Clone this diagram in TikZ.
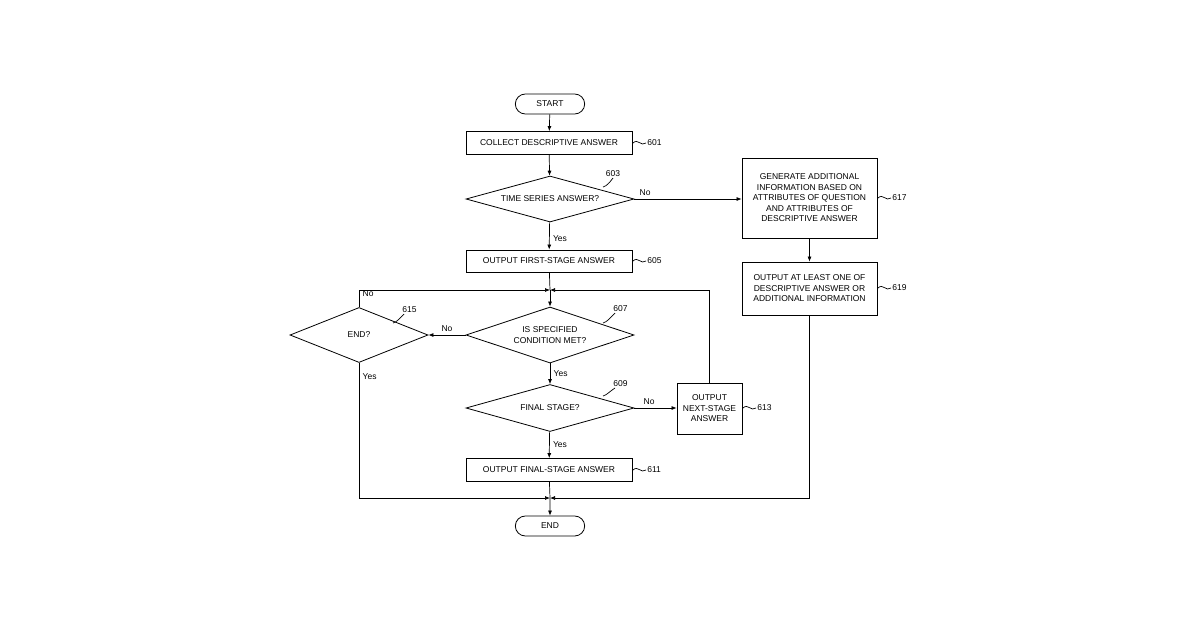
\documentclass[tikz,border=0pt]{standalone}
\usepackage{fontspec}
\setmainfont{Liberation Sans}
\usetikzlibrary{shapes.geometric,shapes.misc,arrows.meta}

\begin{document}
\begin{tikzpicture}[x=1pt,y=-1pt,font=\fontsize{8.5}{10.5}\selectfont,
  box/.style={draw,line width=0.8pt,align=center,inner sep=2pt},
  dia/.style={draw,line width=0.8pt,diamond,aspect=3.6,align=center,inner sep=0pt},
  term/.style={draw,line width=0.8pt,rounded rectangle,minimum width=76,minimum height=20},
  line/.style={line width=0.7pt},
  arr/.style={line width=0.7pt,-{Latex[length=5pt,width=4pt]}},
  lbl/.style={inner sep=1pt}]
\useasboundingbox (0,0) rectangle (1200,630);

% terminals
\node[term] (start) at (550,104) {START};
\node[term] (end) at (550,526) {END};

% boxes
\node[box,minimum width=166,minimum height=23] (b601) at (549,143) {COLLECT DESCRIPTIVE ANSWER};
\node[box,minimum width=166,minimum height=22] (b605) at (549,261) {OUTPUT FIRST-STAGE ANSWER};
\node[box,minimum width=166,minimum height=23] (b611) at (549,470) {OUTPUT FINAL-STAGE ANSWER};
\node[box,minimum width=135,minimum height=80] (b617) at (809.5,198) {GENERATE ADDITIONAL\\INFORMATION BASED ON\\ATTRIBUTES OF QUESTION\\AND ATTRIBUTES OF\\DESCRIPTIVE ANSWER};
\node[box,minimum width=135,minimum height=53] (b619) at (809.5,288.5) {OUTPUT AT LEAST ONE OF\\DESCRIPTIVE ANSWER OR\\ADDITIONAL INFORMATION};
\node[box,minimum width=65,minimum height=51] (b613) at (709.5,408.5) {OUTPUT\\NEXT-STAGE\\ANSWER};

% decisions
\node[dia,minimum width=168,minimum height=46] (d603) at (550,199) {TIME SERIES ANSWER?};
\node[dia,minimum width=168,minimum height=56] (d607) at (550,335) {IS SPECIFIED\\CONDITION MET?};
\node[dia,minimum width=168,minimum height=47] (d609) at (550,408) {FINAL STAGE?};
\node[dia,minimum width=138,minimum height=55] (d615) at (359,335) {END?};

% junctions
\coordinate (j1) at (550,290);
\coordinate (j2) at (550,498);

% connectors
\draw[arr] (start) -- (b601);
\draw[arr] (b601) -- (d603);
\draw[arr] (d603) -- node[right,pos=0.6] {Yes} (b605);
\draw[arr] (d603.east) -- node[above,pos=0.1] {No} (b617.west |- d603.east);
\draw[arr] (b617) -- (b619);
\draw[line] (b605) -- (j1);
\draw[arr] (j1) -- (d607);
\draw[arr] (d607) -- node[right,pos=0.5] {Yes} (d609);
\draw[arr] (d607.west) -- node[above,pos=0.5] {No} (d615.east);
\draw[arr] (d615.north) |- node[pos=0.4,right] {No} (j1);
\draw[arr] (b613.north) |- (j1);
\draw[arr] (d609.east) -- node[above,pos=0.35] {No} (b613.west |- d609.east);
\draw[arr] (d609) -- node[right,pos=0.5] {Yes} (b611);
\draw[line] (b611) -- (j2);
\draw[arr] (d615.south) |- node[pos=0.05,right] {Yes} (j2);
\draw[arr] (b619.south) |- (j2);
\draw[arr] (j2) -- (end);

% reference labels
\foreach \n/\x/\y in {601/633/143, 605/633/261, 611/633/470, 617/878/198, 619/878/288, 613/743/408}
  \draw[line] (\x,\y) .. controls (\x+5,\y-5) and (\x+8,\y+4) .. (\x+13,\y) node[right,lbl] {\n};
\draw[line] (603,187) .. controls (607,186) and (610,182) .. (613,178) node[above,lbl] {603};
\draw[line] (603,323) .. controls (607,322) and (610,318) .. (615,313) node[above right,lbl,xshift=-3] {607};
\draw[line] (603,396) .. controls (607,395) and (610,391) .. (615,388) node[above right,lbl,xshift=-3] {609};
\draw[line] (393,323) .. controls (397,322) and (400,318) .. (404,314) node[above right,lbl,xshift=-3] {615};
\end{tikzpicture}
\end{document}
